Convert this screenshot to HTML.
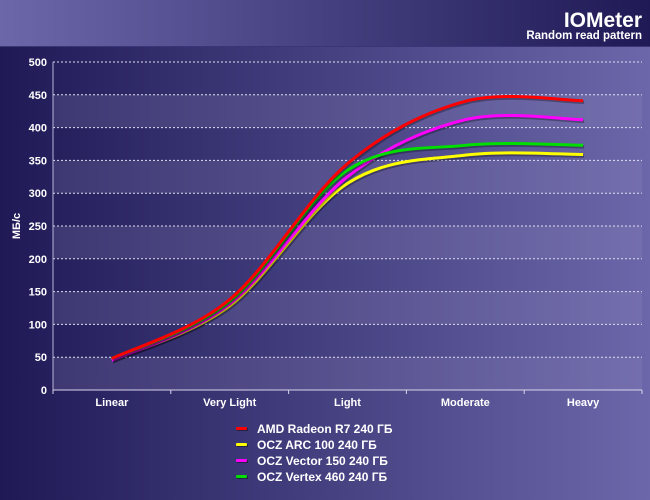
<!DOCTYPE html>
<html><head><meta charset="utf-8"><style>
body{margin:0;width:650px;height:500px;overflow:hidden;font-family:"Liberation Sans","DejaVu Sans",sans-serif}
svg{display:block}
text{font-family:"Liberation Sans","DejaVu Sans",sans-serif;font-weight:bold;fill:#fff}
</style></head><body>
<svg id="chart" width="650" height="500">
<defs>
<linearGradient id="hdr" x1="0" x2="1"><stop offset="0" stop-color="#6b67a9"/><stop offset="1" stop-color="#1f1a56"/></linearGradient>
<linearGradient id="bg" x1="0" x2="1"><stop offset="0" stop-color="#1f1a56"/><stop offset="1" stop-color="#6b67aa"/></linearGradient>
</defs>
<rect width="650" height="500" fill="url(#bg)"/>
<rect width="650" height="46" fill="url(#hdr)"/>
<rect y="46" width="650" height="1" fill="#3a3575"/>
<text x="642" y="27" text-anchor="end" font-size="21">IOMeter</text>
<text x="642" y="39" text-anchor="end" font-size="11.5">Random read pattern</text>
<g id="grid"></g>
<g id="series"></g>
<text transform="translate(20,226) rotate(-90)" text-anchor="middle" font-size="11">МБ/с</text>
<g id="legend"></g>
</svg>
<script>
const categories=["Linear","Very Light","Light","Moderate","Heavy"];
const yTicks=[0,50,100,150,200,250,300,350,400,450,500];
const seriesNames=["AMD Radeon R7 240 ГБ","OCZ ARC 100 240 ГБ","OCZ Vector 150 240 ГБ","OCZ Vertex 460 240 ГБ"];
const seriesColors=["#ff0000","#ffff00","#ff00ff","#00dd00"];
const red=[48,138,345,440,441];
const yellow=[46,128,315,358,359];
const magenta=[45,131,325,412,412];
const green=[48,135,335,373,373];
const seriesValues=[yellow,magenta,green,red];
const drawOrder=[1,2,3,0];
const X0=53,X1=642,Y0=390,Y1=62;
const bw=(X1-X0)/categories.length;
const xs=i=>X0+bw*(i+0.5);
const ys=v=>Y0-(v/500)*(Y0-Y1);
const NS="http://www.w3.org/2000/svg";
function mk(t,a,p){const e=document.createElementNS(NS,t);for(const k in a)e.setAttribute(k,a[k]);p.appendChild(e);return e;}
const grid=document.getElementById('grid');
for(let i=0;i<yTicks.length-1;i+=2){
 const b=mk('rect',{x:X0,y:ys(yTicks[i+1]),width:X1-X0,height:ys(yTicks[i])-ys(yTicks[i+1]),fill:'rgba(150,140,190,0.22)'},grid);
 
 
}
yTicks.forEach(v=>{
 const l=mk('line',{x1:X0,x2:X1,y1:ys(v),y2:ys(v),stroke:'#e0e0f0','stroke-width':1,'stroke-dasharray':'2,2'},grid);
 
 
 const t=mk('text',{x:X0-6,y:ys(v)+4,'text-anchor':'end','font-size':11},grid);t.textContent=v;
 
 
});
mk('line',{x1:X0,x2:X0,y1:Y1,y2:Y0+3,stroke:'#b8b4d8','stroke-width':1},grid);
mk('line',{x1:X0,x2:X1,y1:Y0,y2:Y0,stroke:'#d8d4ec','stroke-width':1},grid);
for(let i=0;i<=categories.length;i++)mk('line',{x1:X0+bw*i,x2:X0+bw*i,y1:Y0,y2:Y0+4,stroke:'#d8d4ec'},grid);
categories.forEach((c,i)=>{const t=mk('text',{x:xs(i),y:Y0+16,'text-anchor':'middle','font-size':11},grid);t.textContent=c;
 
 });
function path(vals){
 const p=vals.map((v,i)=>[xs(i),ys(v)]);
 let d=`M${p[0][0]},${p[0][1]}`;
 for(let i=0;i<p.length-1;i++){
  const a=p[Math.max(i-1,0)],b=p[i],c=p[i+1],e=p[Math.min(i+2,p.length-1)];
  const c1=[b[0]+(c[0]-a[0])/6,b[1]+(c[1]-a[1])/6],c2=[c[0]-(e[0]-b[0])/6,c[1]-(e[1]-b[1])/6];
  d+=` C${c1[0]},${c1[1]} ${c2[0]},${c2[1]} ${c[0]},${c[1]}`;
 }
 return d;
}
const sg=document.getElementById('series');
drawOrder.forEach((si,k)=>{
 const vals=seriesValues[k];
 mk('path',{d:path(vals),fill:'none',stroke:'rgba(0,0,0,0.3)','stroke-width':3.5,transform:'translate(1,1.5)'},sg);
 const p=mk('path',{d:path(vals),fill:'none',stroke:seriesColors[si],'stroke-width':3},sg);
 
 
});
const lg=document.getElementById('legend');
seriesNames.forEach((n,i)=>{
 const y=429+i*16;
 mk('rect',{x:237,y:y-1,width:11,height:3,fill:'rgba(0,0,0,0.4)'},lg);
 const s=mk('rect',{x:236,y:y-2,width:11,height:3,rx:1,fill:seriesColors[i]},lg);
 
 
 const t=mk('text',{x:257,y:y+4,'font-size':12},lg);t.textContent=n;
 
 
});
</script>
</body></html>
